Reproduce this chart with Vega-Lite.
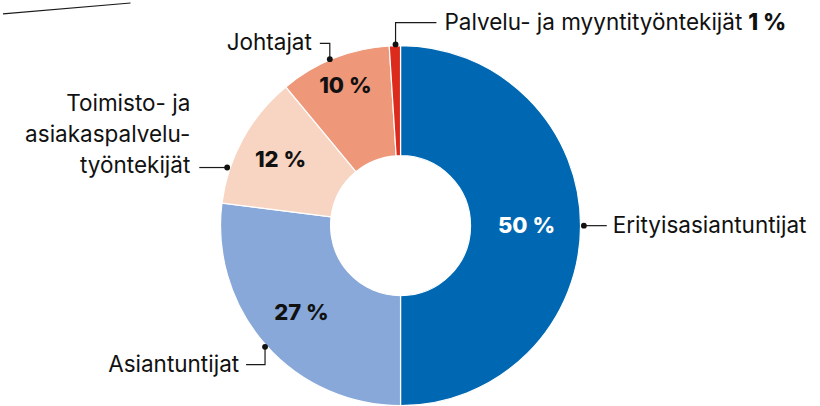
{
  "$schema": "https://vega.github.io/schema/vega-lite/v6.json",
  "width": 820,
  "height": 406,
  "autosize": {"type": "fit", "contains": "padding"},
  "padding": 0,
  "background": "white",
  "config": {"view": {"stroke": null}, "font": "Inter"},
  "datasets": {
    "shares": [
      {"ryhma": "Erityisasiantuntijat", "osuus": 50, "jarjestys": 1, "teksti": "50 %"},
      {"ryhma": "Asiantuntijat", "osuus": 27, "jarjestys": 2, "teksti": "27 %"},
      {"ryhma": "Toimisto- ja asiakaspalvelutyöntekijät", "osuus": 12, "jarjestys": 3, "teksti": "12 %"},
      {"ryhma": "Johtajat", "osuus": 10, "jarjestys": 4, "teksti": "10 %"},
      {"ryhma": "Palvelu- ja myyntityöntekijät", "osuus": 1, "jarjestys": 5, "teksti": "1 %"}
    ],
    "leaders": [
      {"id": "eri", "k": 1, "x": 184, "y": 0},
      {"id": "eri", "k": 2, "x": 207, "y": 0},
      {"id": "pal", "k": 1, "x": -5, "y": 184},
      {"id": "pal", "k": 2, "x": -5, "y": 206},
      {"id": "pal", "k": 3, "x": 36, "y": 206},
      {"id": "joh", "k": 1, "x": -71, "y": 169},
      {"id": "joh", "k": 2, "x": -71, "y": 185},
      {"id": "joh", "k": 3, "x": -81, "y": 185},
      {"id": "toi", "k": 1, "x": -174, "y": 59},
      {"id": "toi", "k": 2, "x": -202, "y": 59},
      {"id": "asi", "k": 1, "x": -136, "y": -123},
      {"id": "asi", "k": 2, "x": -136, "y": -141},
      {"id": "asi", "k": 3, "x": -155, "y": -141},
      {"id": "deco", "k": 1, "x": -399, "y": 215},
      {"id": "deco", "k": 2, "x": -271, "y": 226}
    ],
    "labelsLeft": [
      {"teksti": "Johtajat", "x": -89, "y": 185},
      {"teksti": ["Toimisto- ja", "asiakaspalvelu-", "työntekijät"], "x": -211, "y": 123},
      {"teksti": "Asiantuntijat", "x": -162, "y": -141}
    ],
    "labelsRight": [
      {"teksti": "Erityisasiantuntijat", "x": 213, "y": 0},
      {"teksti": "Palvelu- ja myyntityöntekijät", "x": 44, "y": 206}
    ],
    "labelsBold": [
      {"teksti": "1 %", "x": 349, "y": 206}
    ]
  },
  "layer": [
    {
      "data": {"name": "shares"},
      "mark": {"type": "arc", "radius": 180, "radius2": 70, "stroke": "white", "strokeWidth": 1.2},
      "encoding": {
        "x": {"datum": 0, "type": "quantitative", "scale": {"domain": [-399, 421], "nice": false, "zero": false}, "axis": null},
        "y": {"datum": 0, "type": "quantitative", "scale": {"domain": [-180, 226], "nice": false, "zero": false}, "axis": null},
        "theta": {"field": "osuus", "type": "quantitative", "stack": true, "scale": {"domain": [0, 100]}},
        "order": {"field": "jarjestys", "type": "quantitative"},
        "color": {
          "field": "ryhma", "type": "nominal", "legend": null,
          "scale": {
            "domain": ["Erityisasiantuntijat", "Asiantuntijat", "Toimisto- ja asiakaspalvelutyöntekijät", "Johtajat", "Palvelu- ja myyntityöntekijät"],
            "range": ["#0068b2", "#87a8d8", "#f8d4c2", "#ee9779", "#dc2b1c"]
          }
        }
      }
    },
    {
      "data": {"name": "shares"},
      "transform": [
        {"stack": "osuus", "groupby": [], "sort": [{"field": "jarjestys", "order": "ascending"}], "as": ["alku", "loppu"]},
        {"calculate": "(datum.alku + datum.loppu) / 2", "as": "keski"},
        {"filter": "datum.jarjestys <= 4"}
      ],
      "layer": [
        {
          "transform": [{"filter": "datum.jarjestys == 1"}],
          "mark": {"type": "text", "radius": 126, "fontSize": 22, "fontWeight": 800, "color": "white", "align": "center", "baseline": "middle"}
        },
        {
          "transform": [{"filter": "datum.jarjestys == 2"}],
          "mark": {"type": "text", "radius": 132, "fontSize": 22, "fontWeight": 800, "color": "#111", "align": "center", "baseline": "middle"}
        },
        {
          "transform": [{"filter": "datum.jarjestys == 3"}],
          "mark": {"type": "text", "radius": 137, "fontSize": 22, "fontWeight": 800, "color": "#111", "align": "center", "baseline": "middle"}
        },
        {
          "transform": [{"filter": "datum.jarjestys == 4"}],
          "mark": {"type": "text", "radius": 150, "fontSize": 22, "fontWeight": 800, "color": "#111", "align": "center", "baseline": "middle"}
        }
      ],
      "encoding": {
        "x": {"datum": 0, "type": "quantitative"},
        "y": {"datum": 0, "type": "quantitative"},
        "theta": {"field": "keski", "type": "quantitative", "scale": {"domain": [0, 100]}},
        "text": {"field": "teksti"}
      }
    },
    {
      "data": {"name": "leaders"},
      "mark": {"type": "line", "color": "#1a1a1a", "strokeWidth": 1.2, "interpolate": "linear"},
      "encoding": {
        "x": {"field": "x", "type": "quantitative"},
        "y": {"field": "y", "type": "quantitative"},
        "detail": {"field": "id"},
        "order": {"field": "k", "type": "quantitative"}
      }
    },
    {
      "data": {"name": "leaders"},
      "transform": [{"filter": "datum.k == 1 && datum.id != 'deco'"}],
      "mark": {"type": "point", "filled": true, "color": "#111", "size": 34, "opacity": 1},
      "encoding": {
        "x": {"field": "x", "type": "quantitative"},
        "y": {"field": "y", "type": "quantitative"}
      }
    },
    {
      "data": {"name": "labelsLeft"},
      "mark": {"type": "text", "align": "right", "baseline": "middle", "fontSize": 22.5, "lineHeight": 31, "color": "#111"},
      "encoding": {
        "x": {"field": "x", "type": "quantitative"},
        "y": {"field": "y", "type": "quantitative"},
        "text": {"field": "teksti"}
      }
    },
    {
      "data": {"name": "labelsRight"},
      "mark": {"type": "text", "align": "left", "baseline": "middle", "fontSize": 22.5, "color": "#111"},
      "encoding": {
        "x": {"field": "x", "type": "quantitative"},
        "y": {"field": "y", "type": "quantitative"},
        "text": {"field": "teksti"}
      }
    },
    {
      "data": {"name": "labelsBold"},
      "mark": {"type": "text", "align": "left", "baseline": "middle", "fontSize": 22.5, "fontWeight": 800, "color": "#111"},
      "encoding": {
        "x": {"field": "x", "type": "quantitative"},
        "y": {"field": "y", "type": "quantitative"},
        "text": {"field": "teksti"}
      }
    }
  ]
}
